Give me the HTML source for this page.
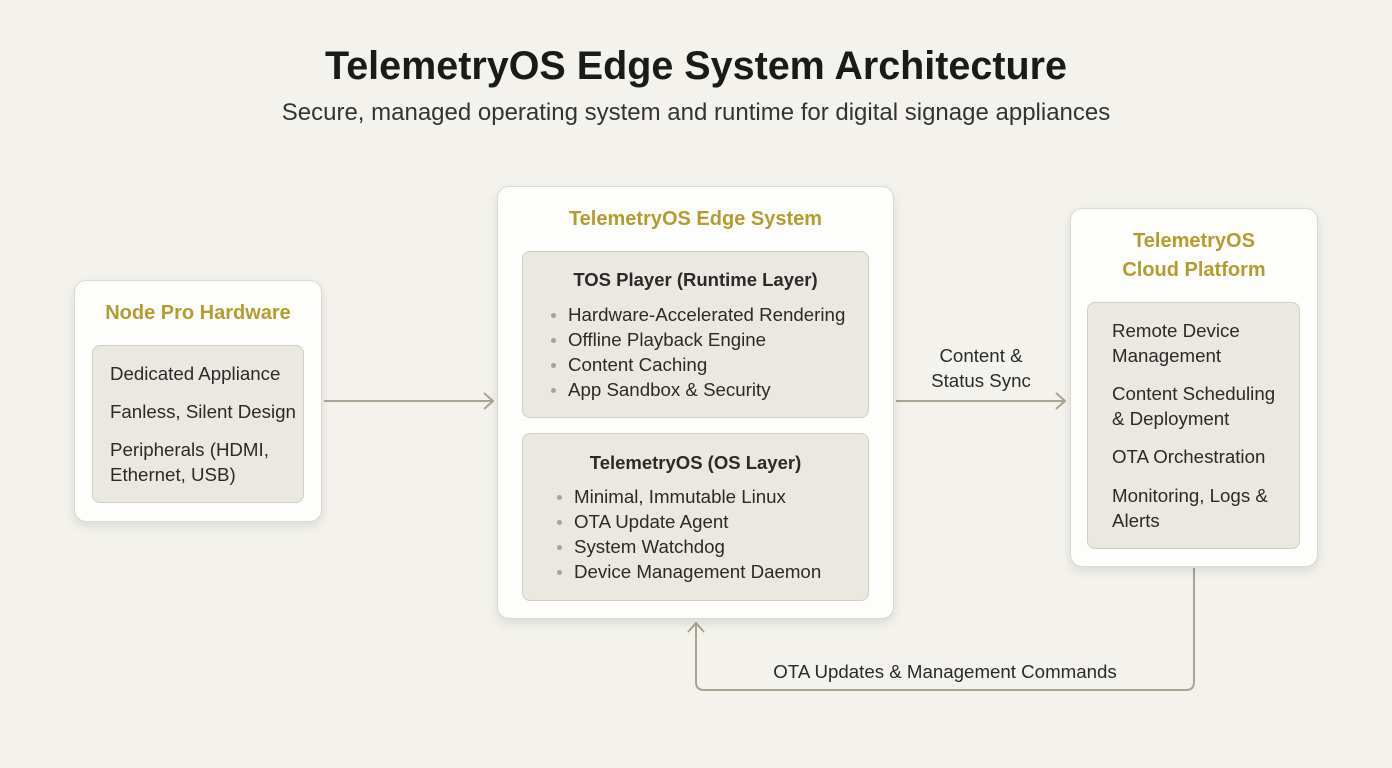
<!DOCTYPE html>
<html><head><meta charset="utf-8"><style>
*{margin:0;padding:0;box-sizing:border-box}
body{width:1392px;height:768px;background:#f3f2ed;font-family:"Liberation Sans",sans-serif;color:#2a2a2a;position:relative;overflow:hidden}
.a{position:absolute;white-space:nowrap}
.box{position:absolute;background:#fdfdfb;border:1.5px solid #dcd8cf;border-radius:12px;box-shadow:0 4px 10px rgba(0,0,0,0.10)}
.in{position:absolute;background:#ebe8e1;border:1.5px solid #d3cec3;border-radius:8px}
.gold{color:#b59b2e;font-size:20px;font-weight:bold;text-align:center;line-height:24px}
.t{font-size:18.7px;line-height:22px}
.b{font-size:18.5px;line-height:22px;font-weight:bold;text-align:center}
.dot{position:absolute;width:5px;height:5px;border-radius:50%;background:#a8a397}
</style></head><body>
<div class="a" style="left:0;width:1392px;text-align:center;top:43px;font-size:39.5px;font-weight:bold;color:#1a1a1a;line-height:46px">TelemetryOS Edge System Architecture</div>
<div class="a" style="left:0;width:1392px;text-align:center;top:99px;font-size:24px;color:#333;line-height:28px">Secure, managed operating system and runtime for digital signage appliances</div>

<svg class="a" style="left:0;top:0" width="1392" height="768">
<g fill="none" stroke="#a9a391" stroke-width="2">
<line x1="324" y1="401" x2="493" y2="401"/>
<polyline points="484,393 493,401 484,409"/>
<line x1="896" y1="401" x2="1065" y2="401"/>
<polyline points="1056,393 1065,401 1056,409"/>
<path d="M1194 568 V682 Q1194 690 1186 690 H704 Q696 690 696 682 V623"/>
<polyline points="688,632 696,623 704,632"/>
</g></svg>

<div class="box" style="left:74px;top:280px;width:248px;height:242px"></div>
<div class="a gold" style="left:74px;width:248px;top:301px">Node Pro Hardware</div>
<div class="in" style="left:92px;top:345px;width:212px;height:158px"></div>
<div class="a t" style="left:110px;top:363px">Dedicated Appliance</div>
<div class="a t" style="left:110px;top:401px">Fanless, Silent Design</div>
<div class="a t" style="left:110px;top:439px">Peripherals (HDMI,</div>
<div class="a t" style="left:110px;top:464px">Ethernet, USB)</div>

<div class="box" style="left:497px;top:186px;width:397px;height:433px"></div>
<div class="a gold" style="left:497px;width:397px;top:207px">TelemetryOS Edge System</div>
<div class="in" style="left:522px;top:251px;width:347px;height:167px"></div>
<div class="a b" style="left:522px;width:347px;top:269px">TOS Player (Runtime Layer)</div>
<div class="dot" style="left:551px;top:313px"></div><div class="a t" style="left:568px;top:304px">Hardware-Accelerated Rendering</div>
<div class="dot" style="left:551px;top:338px"></div><div class="a t" style="left:568px;top:329px">Offline Playback Engine</div>
<div class="dot" style="left:551px;top:363px"></div><div class="a t" style="left:568px;top:354px">Content Caching</div>
<div class="dot" style="left:551px;top:388px"></div><div class="a t" style="left:568px;top:379px">App Sandbox &amp; Security</div>
<div class="in" style="left:522px;top:433px;width:347px;height:168px"></div>
<div class="a b" style="left:522px;width:347px;top:452px">TelemetryOS (OS Layer)</div>
<div class="dot" style="left:557px;top:495px"></div><div class="a t" style="left:574px;top:486px">Minimal, Immutable Linux</div>
<div class="dot" style="left:557px;top:520px"></div><div class="a t" style="left:574px;top:511px">OTA Update Agent</div>
<div class="dot" style="left:557px;top:545px"></div><div class="a t" style="left:574px;top:536px">System Watchdog</div>
<div class="dot" style="left:557px;top:570px"></div><div class="a t" style="left:574px;top:561px">Device Management Daemon</div>

<div class="a t" style="left:900px;width:162px;text-align:center;top:345px">Content &amp;</div>
<div class="a t" style="left:900px;width:162px;text-align:center;top:370px">Status Sync</div>

<div class="box" style="left:1070px;top:208px;width:248px;height:359px"></div>
<div class="a gold" style="left:1070px;width:248px;top:229px">TelemetryOS</div>
<div class="a gold" style="left:1070px;width:248px;top:258px">Cloud Platform</div>
<div class="in" style="left:1087px;top:302px;width:213px;height:247px"></div>
<div class="a t" style="left:1112px;top:320px">Remote Device</div>
<div class="a t" style="left:1112px;top:345px">Management</div>
<div class="a t" style="left:1112px;top:383px">Content Scheduling</div>
<div class="a t" style="left:1112px;top:408px">&amp; Deployment</div>
<div class="a t" style="left:1112px;top:446px">OTA Orchestration</div>
<div class="a t" style="left:1112px;top:485px">Monitoring, Logs &amp;</div>
<div class="a t" style="left:1112px;top:510px">Alerts</div>

<div class="a t" style="left:740px;width:410px;text-align:center;top:661px">OTA Updates &amp; Management Commands</div>
</body></html>
